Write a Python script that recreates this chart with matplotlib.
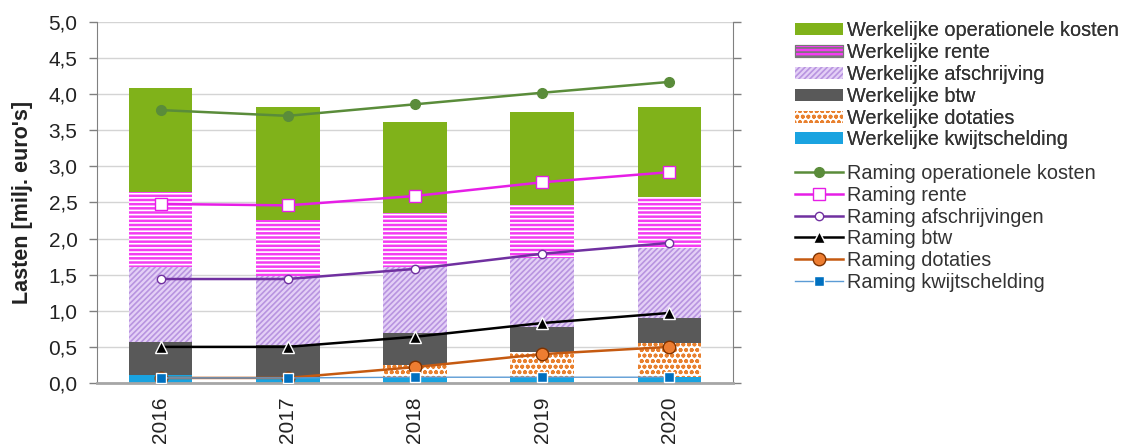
import numpy as np
from matplotlib import pyplot as plt

#%% Data (milj. euro's)
jaren = ['2016', '2017', '2018', '2019', '2020']

# werkelijke lasten, stacked bars (bottom -> top)
w_kwijt = [0.11, 0.08, 0.08, 0.08, 0.08]
w_dotaties = [0.00, 0.00, 0.17, 0.35, 0.47]
w_btw = [0.46, 0.45, 0.44, 0.35, 0.35]
w_afschr = [1.04, 0.95, 0.92, 0.95, 0.97]
w_rente = [1.04, 0.78, 0.74, 0.74, 0.71]
w_oper = [1.44, 1.56, 1.26, 1.29, 1.24]

# ramingen (cumulative levels as lines)
r_oper = [3.78, 3.70, 3.86, 4.02, 4.17]
r_rente = [2.48, 2.46, 2.59, 2.78, 2.92]
r_afschr = [1.44, 1.44, 1.58, 1.79, 1.94]
r_btw = [0.50, 0.50, 0.64, 0.83, 0.97]
r_dotaties = [0.07, 0.07, 0.22, 0.40, 0.50]
r_kwijt = [0.07, 0.07, 0.08, 0.08, 0.08]

#%% Plot
plt.rcParams['font.family'] = ['Liberation Sans', 'DejaVu Sans']
plt.rcParams['hatch.linewidth'] = 1.2

fig = plt.figure(figsize=(11.3, 4.47), dpi=100)
ax = fig.add_axes([0.0858, 0.1432, 0.5628, 0.8076])

x = np.arange(len(jaren))
bw = 0.5

bars = [
    (w_kwijt, 'Werkelijke kwijtschelding', dict(color='#1aa3e0', linewidth=0)),
    (w_dotaties, 'Werkelijke dotaties', dict(facecolor='white', edgecolor='#e8802e', hatch='ooo', linewidth=0)),
    (w_btw, 'Werkelijke btw', dict(color='#595959', linewidth=0)),
    (w_afschr, 'Werkelijke afschrijving', dict(facecolor='#e4d0f6', edgecolor='#b894e0', hatch='//////', linewidth=0)),
    (w_rente, 'Werkelijke rente', dict(facecolor='#f43cf2', edgecolor='white', hatch='----', linewidth=0)),
    (w_oper, 'Werkelijke operationele kosten', dict(color='#80b21a', linewidth=0)),
]

bottom = np.zeros(len(jaren))
bar_handles = []
for vals, lab, kw in bars:
    b = ax.bar(x, vals, bw, bottom=bottom, label=lab, zorder=2, **kw)
    bottom = bottom + np.array(vals)
    bar_handles.append(b)

lines = [
    (r_oper, 'Raming operationele kosten', dict(color='#5a8c3a', lw=1.8, marker='o', ms=7,
                                                 mfc='#5a8c3a', mec='#5a8c3a')),
    (r_rente, 'Raming rente', dict(color='#e61ee6', lw=1.8, marker='s', ms=9,
                                   mfc='white', mec='#e61ee6')),
    (r_afschr, 'Raming afschrijvingen', dict(color='#7030a0', lw=1.8, marker='o', ms=6,
                                             mfc='white', mec='#7030a0')),
    (r_btw, 'Raming btw', dict(color='black', lw=1.8, marker='^', ms=8,
                               mfc='black', mec='white')),
    (r_dotaties, 'Raming dotaties', dict(color='#c55a11', lw=1.8, marker='o', ms=9,
                                         mfc='#ed7d31', mec='#7f3300')),
    (r_kwijt, 'Raming kwijtschelding', dict(color='#5b9bd5', lw=1.0, marker='s', ms=7,
                                            mfc='#0070c0', mec='white')),
]
line_handles = []
for vals, lab, kw in lines:
    l, = ax.plot(x, vals, label=lab, zorder=4, **kw)
    line_handles.append(l)

ax.set_xlim(-0.5, len(jaren) - 0.5)
ax.set_ylim(0, 5.0)
ax.set_yticks(np.arange(0, 5.01, 0.5))
ax.set_yticklabels([f'{v:.1f}'.replace('.', ',') for v in np.arange(0, 5.01, 0.5)])
ax.set_xticks(x)
ax.set_xticklabels(jaren, rotation=90)
ax.tick_params(axis='x', length=0, pad=10, labelsize=15, colors='#222222')
ax.tick_params(axis='y', direction='out', length=6, color='#808080', labelsize=15,
               labelcolor='#222222', right=True, width=1, pad=8)
ax.set_ylabel("Lasten [milj. euro's]", fontsize=15.5, fontweight='bold', color='#222222', labelpad=11)

ax.grid(axis='y', color='#d4d4d4', lw=1, zorder=0)
ax.set_axisbelow(True)
ax.spines['top'].set_visible(False)
ax.spines['left'].set_color('#808080')
ax.spines['right'].set_color('#808080')
ax.spines['bottom'].set_color('#a6a6a6')
ax.spines['bottom'].set_linewidth(2)

# legends: bars (top group) and ramingen (bottom group)
leg_kw = dict(loc='upper left', frameon=False, fontsize=14.3, handlelength=2.4,
              handletextpad=0.2, labelspacing=0.14, borderpad=0, borderaxespad=0,
              labelcolor='#333333')
leg1 = fig.legend(bar_handles[::-1], [b[1] for b in bars][::-1],
                  bbox_to_anchor=(0.7035, 0.952), handleheight=0.55, **leg_kw)
leg1.legend_handles[1].set_edgecolor('#777777')
leg1.legend_handles[1].set_linewidth(0.8)
fig.add_artist(leg1)
leg2 = fig.legend(line_handles, [l[1] for l in lines],
                  bbox_to_anchor=(0.7035, 0.633), **leg_kw)

plt.savefig('out.png', dpi=100)
